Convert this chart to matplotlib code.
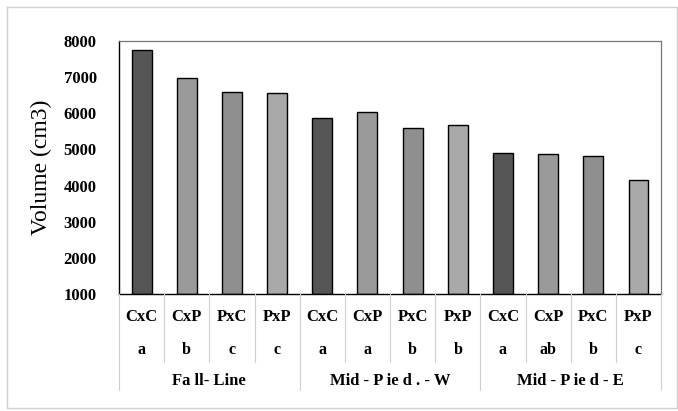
import matplotlib.pyplot as plt
from matplotlib.lines import Line2D

crosses = ["CxC", "CxP", "PxC", "PxP"] * 3
letters = ["a", "b", "c", "c", "a", "a", "b", "b", "a", "ab", "b", "c"]
sites = ["Fa ll- Line", "Mid - P ie d . - W", "Mid - P ie d - E"]
volume = [7750, 6980, 6590, 6560, 5880, 6030, 5590, 5670, 4900, 4870, 4830, 4160]
yticks = [1000, 2000, 3000, 4000, 5000, 6000, 7000, 8000]

colors = {"CxC": "#555555", "CxP": "#9a9a9a", "PxC": "#8f8f8f", "PxP": "#a9a9a9"}

plt.rcParams["font.family"] = ["Liberation Serif", "DejaVu Serif"]
plt.rcParams["font.weight"] = "bold"

fig = plt.figure(figsize=(6.78, 4.11), dpi=100)
ax = fig.add_axes([0.1755, 0.2847, 0.7995, 0.6153])

x = list(range(len(volume)))
ax.bar(x, [v - 1000 for v in volume], bottom=1000, width=0.44,
       color=[colors[c] for c in crosses], edgecolor="black", linewidth=1.0)

ax.set_xlim(-0.5, len(volume) - 0.5)
ax.set_ylim(1000, 8000)
ax.set_yticks(yticks)
ax.set_yticklabels([str(t) for t in yticks], fontsize=12, fontweight="bold")
ax.tick_params(axis="y", length=0, pad=16)
ax.set_xticks([])
ax.set_ylabel("Volume (cm3)", fontsize=17, fontweight="normal", labelpad=8)

for s in ["left", "bottom"]:
    ax.spines[s].set_color("black")
    ax.spines[s].set_linewidth(1.0)
for s in ["top", "right"]:
    ax.spines[s].set_color("#777777")
    ax.spines[s].set_linewidth(0.9)

# table under the axis (figure pixel coords -> fraction)
W, H = 678, 411
def fx(px):
    return px / W
def fy(py):
    return 1 - py / H

x0, x1 = 119, 661
cw = (x1 - x0) / len(volume)
for i in range(len(volume)):
    cx = x0 + cw * (i + 0.5)
    fig.text(fx(cx), fy(317), crosses[i], ha="center", va="center", fontsize=12)
    fig.text(fx(cx), fy(350), letters[i], ha="center", va="center", fontsize=11.5)
for g in range(3):
    cx = x0 + cw * (4 * g + 2)
    fig.text(fx(cx), fy(381), sites[g], ha="center", va="center", fontsize=12)

for i in range(len(volume) + 1):
    xp = x0 + cw * i
    bottom = 390 if i % 4 == 0 else 362
    fig.add_artist(Line2D([fx(xp), fx(xp)], [fy(294), fy(bottom)],
                          color="#cfcfcf", linewidth=0.8))

# outer chart border
fig.add_artist(Line2D([fx(7), fx(677), fx(677), fx(7), fx(7)],
                      [fy(7), fy(7), fy(408), fy(408), fy(7)],
                      color="#d0d0d0", linewidth=1.0))

fig.savefig("out.png", dpi=100)
